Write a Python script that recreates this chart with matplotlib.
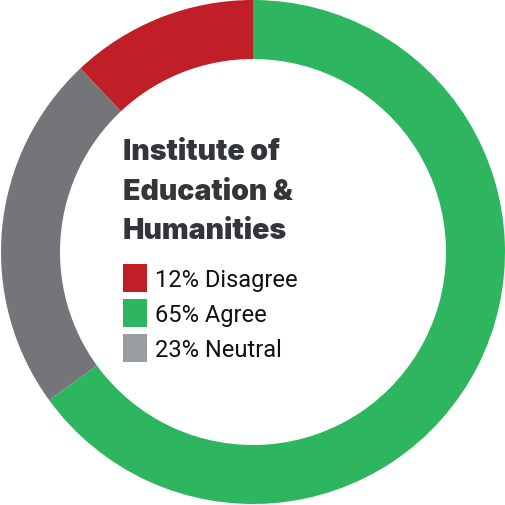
import matplotlib.pyplot as plt
from matplotlib.patches import Rectangle

# survey answers, drawn clockwise from 12 o'clock
labels = ['Agree', 'Neutral', 'Disagree']
shares = [65, 23, 12]
colors = ['#2db560', '#737578', '#c01f27']

# legend order and swatch colours
legend_labels = ['12% Disagree', '65% Agree', '23% Neutral']
legend_colors = ['#c01f27', '#2db560', '#9a9da0']

title_lines = ['Institute of', 'Education &', 'Humanities']

fig = plt.figure(figsize=(5.06, 5.06), dpi=100)
ax = fig.add_axes([0, 0, 1, 1])

ax.pie(shares, colors=colors, startangle=90, counterclock=False,
       center=(253, 253), radius=252, frame=True,
       wedgeprops=dict(width=59, linewidth=0))
ax.set_xlim(0, 506)
ax.set_ylim(0, 506)
ax.set_aspect('equal')
ax.axis('off')

# heading in the middle of the ring
for i, line in enumerate(title_lines):
    ax.text(123, 506 - (160 + i * 39.5), line, fontsize=20.5, family='Inter',
            fontweight='black', color='#333639', va='baseline', ha='left')

# legend swatches and labels
for i, (lab, col) in enumerate(zip(legend_labels, legend_colors)):
    top = 265 + i * 35
    ax.add_patch(Rectangle((123, 506 - top - 28), 24, 28, color=col, lw=0))
    ax.text(155, 506 - (top + 22), lab, fontsize=17, family='Roboto',
            color='#111111', va='baseline', ha='left')

fig.savefig('out.png', dpi=100, facecolor='white')
